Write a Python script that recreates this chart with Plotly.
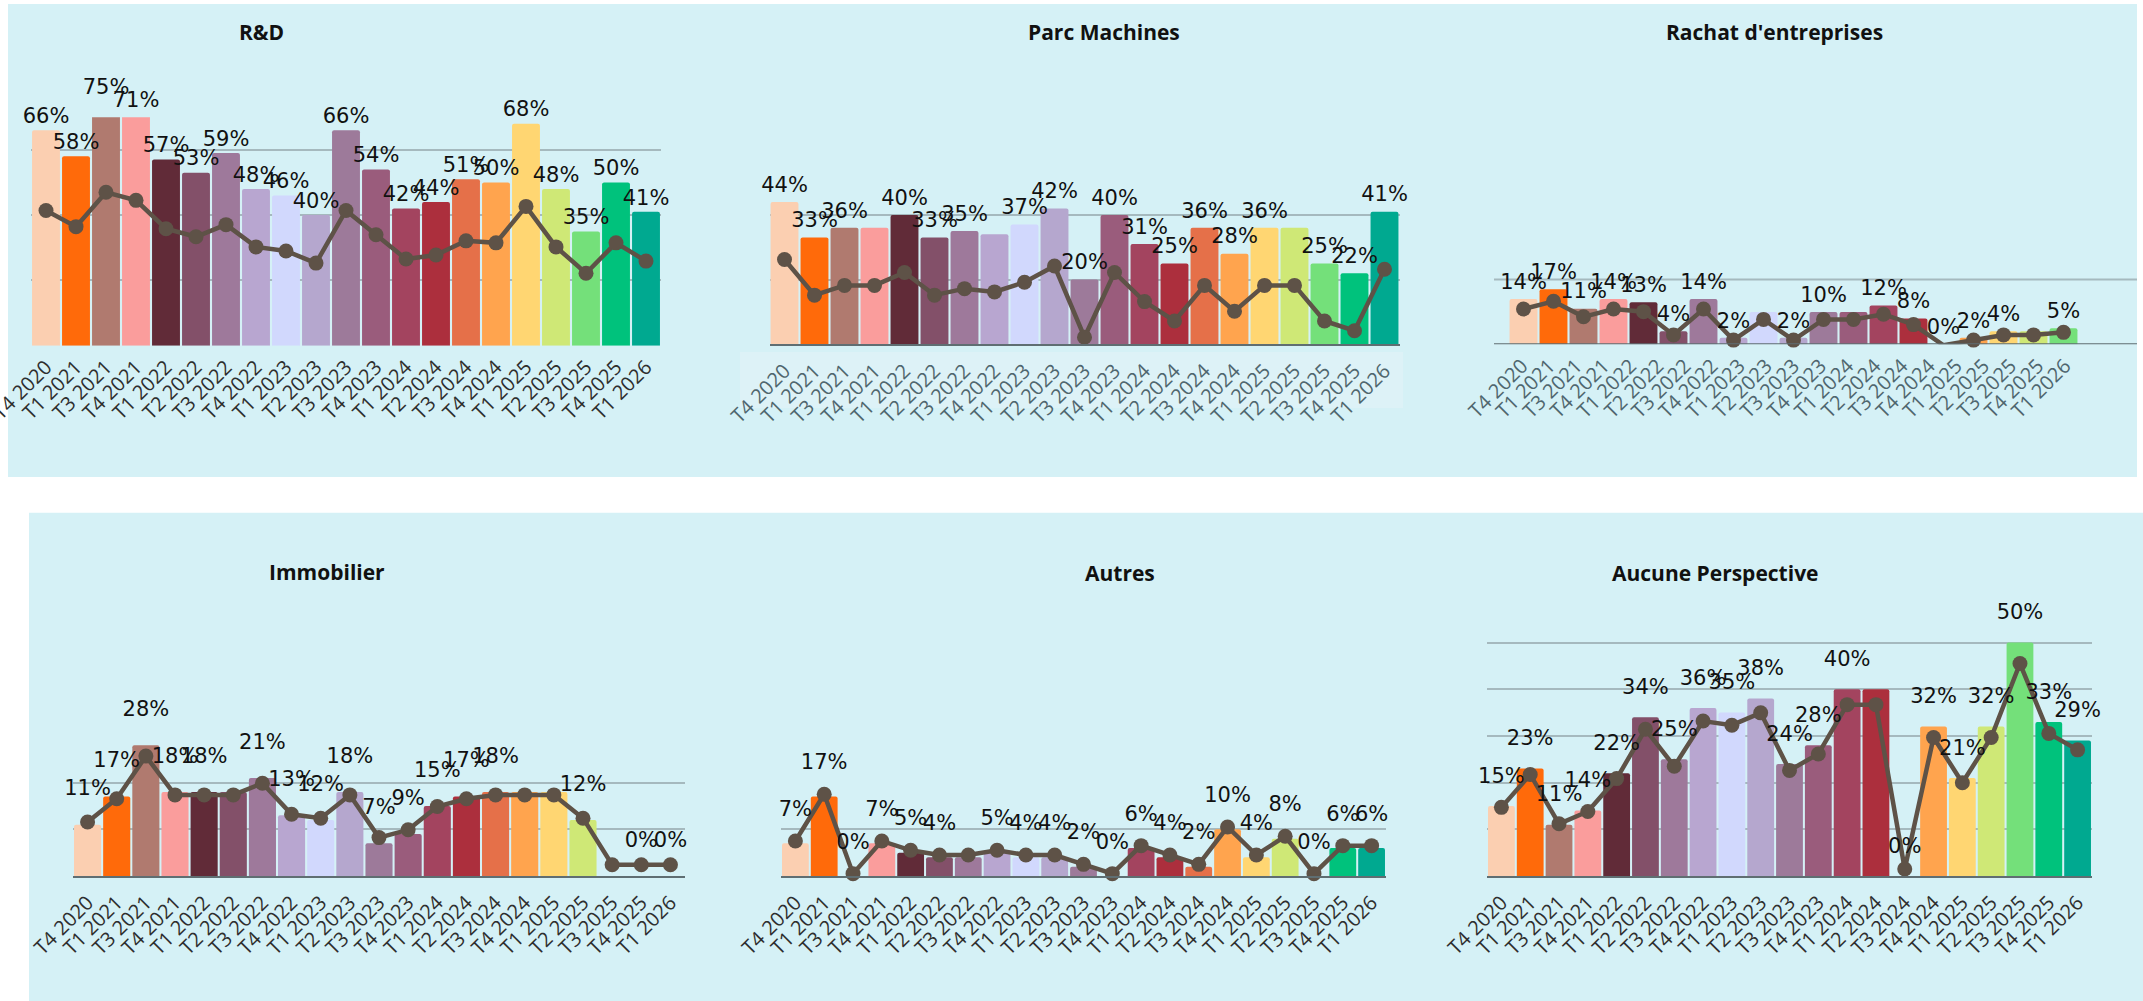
import plotly.graph_objects as go

# ---------------- data ----------------
categories = ["T4 2020", "T1 2021", "T3 2021", "T4 2021", "T1 2022", "T2 2022", "T3 2022",
              "T4 2022", "T1 2023", "T2 2023", "T3 2023", "T4 2023", "T1 2024", "T2 2024",
              "T3 2024", "T4 2024", "T1 2025", "T2 2025", "T3 2025", "T4 2025", "T1 2026"]

rd_values = [66, 58, 75, 71, 57, 53, 59, 48, 46, 40, 66, 54, 42, 44, 51, 50, 68, 48, 35, 50, 41]
parc_values = [44, 33, 36, 36, 40, 33, 35, 34, 37, 42, 20, 40, 31, 25, 36, 28, 36, 36, 25, 22, 41]
rachat_values = [14, 17, 11, 14, 13, 4, 14, 2, 10, 2, 10, 10, 12, 8, 0, 2, 4, 4, 5]
immobilier_values = [11, 17, 28, 18, 18, 18, 21, 13, 12, 18, 7, 9, 15, 17, 18, 18, 18, 12, 0, 0, 0]
autres_values = [7, 17, 0, 7, 5, 4, 4, 5, 4, 4, 2, 0, 6, 4, 2, 10, 4, 8, 0, 6, 6]
aucune_values = [15, 23, 11, 14, 22, 34, 25, 36, 35, 38, 24, 28, 40, 40, 0, 32, 21, 32, 50, 33, 29]

# labels hidden in the original (overlapping) -- indices
rd_hidden = []
parc_hidden = [3, 7, 17]
rachat_hidden = [8, 11, 17]
immobilier_hidden = [5, 15, 16, 18]
autres_hidden = [6]
aucune_hidden = [13]

bar_colors = ["#FBCFB1", "#FF6A0A", "#B07A6F", "#FA9D9C", "#612B38", "#835069", "#9E799B",
              "#B8A6D0", "#D1D8FD", "#B5A7CE", "#9D7A9A", "#9A5C7C", "#A3445F", "#AC2F3D",
              "#E57049", "#FFA44E", "#FFD672", "#CFE876", "#74E07A", "#00C27C", "#00A990"]

titles = ["R&D", "Parc Machines", "Rachat d'entreprises", "Immobilier", "Autres", "Aucune Perspective"]

# ---------------- styling / layout ----------------
W, H = 2143, 1001


def fx(p):
    return p / W


def fy(p):
    return 1 - p / H


LINE_COLOR = "#5E5247"
GRID_COLOR = "#A5B9BE"
AXIS_COLOR = "#5F6E72"
BG = "#D5F1F6"
LABEL_FONT = dict(family="DejaVu Sans", size=21, color="#111111")
TICK_SIZE = 20

# ypx: pixels per y unit (keeps label axis at the same scale)
panels = [
    dict(vals=rd_values, hidden=rd_hidden, xdom=(31, 661), ybot=345.7, yr=[0, 70], dt=20, ypx=3.265,
         lr=[-0.8, 112.1], tpos=(261, 32), tcol="#2E2E2E", showline=False, grid=True, lpad=2),
    dict(vals=parc_values, hidden=parc_hidden, xdom=(769.5, 1399.5), ybot=344.3, yr=[0, 50], dt=20, ypx=3.235,
         lr=[17.8, 67.8], tpos=(1104, 32), tcol="#4F666E", showline=True, grid=True, lpad=5),
    dict(vals=rachat_values, hidden=rachat_hidden, xdom=(1508.5, 2078.5), ybot=344.3, yr=[0, 30], dt=20, ypx=3.235,
         lr=[0.375, 37.9], tpos=(1774, 32), tcol="#4F666E", showline=False, grid=False, lpad=5),
    dict(vals=immobilier_values, hidden=immobilier_hidden, xdom=(73, 685), ybot=876, yr=[0, 29], dt=10, ypx=4.67,
         lr=[-2.9, 32.0], tpos=(327, 572), tcol="#2E2E2E", showline=True, grid=True, lpad=24),
    dict(vals=autres_values, hidden=autres_hidden, xdom=(781, 1386), ybot=876, yr=[0, 19], dt=10, ypx=4.67,
         lr=[-0.5, 18.5], tpos=(1120, 573), tcol="#2E2E2E", showline=True, grid=True, lpad=22),
    dict(vals=aucune_values, hidden=aucune_hidden, xdom=(1487, 2092), ybot=876, yr=[0, 55], dt=10, ypx=4.67,
         lr=[-1.7, 60.8], tpos=(1715, 573), tcol="#2E2E2E", showline=True, grid=True, lpad=18),
]
LABEL_AXIS_MAX = 90  # label axis spans further up, same scale, so labels of clipped bars stay visible

fig = go.Figure()
layout = {}
annotations = []

for i, p in enumerate(panels, start=1):
    n = len(p["vals"])
    cats = categories[:n]
    texts = ["" if k in p["hidden"] else f"{v}%" for k, v in enumerate(p["vals"])]
    xa, ya, ya2, yl = f"x{i}", f"y{i}", f"y{i + 6}", f"y{i + 12}"
    ytop = p["ybot"] - p["yr"][1] * p["ypx"]
    ytop_lab = p["ybot"] - LABEL_AXIS_MAX * p["ypx"]
    fig.add_trace(go.Bar(
        x=cats, y=p["vals"], xaxis=xa, yaxis=ya,
        marker=dict(color=bar_colors[:n], line=dict(width=0), cornerradius=2),
        hoverinfo="skip", showlegend=False))
    fig.add_trace(go.Scatter(
        x=cats, y=p["vals"], xaxis=xa, yaxis=ya2, mode="lines+markers",
        line=dict(color=LINE_COLOR, width=4.5), marker=dict(size=15, color=LINE_COLOR),
        cliponaxis=False, hoverinfo="skip", showlegend=False))
    # value labels just above each bar (invisible marker sets the gap)
    msize = (p["lpad"] - 1) * 1.6 if p["lpad"] > 0 else 0
    fig.add_trace(go.Scatter(
        x=cats, y=p["vals"], xaxis=xa, yaxis=yl, mode="markers+text" if msize else "text",
        marker=dict(size=msize, opacity=0), text=texts, textposition="top center",
        textfont=LABEL_FONT, cliponaxis=False, hoverinfo="skip", showlegend=False))

    show_ticks = (i != 3)
    layout[f"xaxis{i}"] = dict(
        domain=[fx(p["xdom"][0]), fx(p["xdom"][1])], anchor=ya, type="category",
        categoryorder="array", categoryarray=cats, range=[-0.5, n - 0.5], automargin=False,
        showticklabels=show_ticks, tickangle=-45, ticks="", ticklabelstandoff=5,
        tickfont=dict(family="Open Sans", size=TICK_SIZE, color=p["tcol"]),
        showgrid=False, zeroline=False,
        showline=p["showline"], linecolor=AXIS_COLOR, linewidth=2)
    layout[f"yaxis{i}"] = dict(
        domain=[fy(p["ybot"]), fy(ytop)], anchor=xa, range=p["yr"], dtick=p["dt"], tick0=0,
        showticklabels=False, ticks="", showgrid=p["grid"], gridcolor=GRID_COLOR, gridwidth=2,
        zeroline=False, showline=False, automargin=False)
    layout[f"yaxis{i + 6}"] = dict(overlaying=ya, anchor=xa, range=p["lr"], visible=False)
    layout[f"yaxis{i + 12}"] = dict(domain=[fy(p["ybot"]), fy(ytop_lab)], anchor=xa,
                                    range=[0, LABEL_AXIS_MAX], visible=False, automargin=False)
    annotations.append(dict(
        text=titles[i - 1], x=fx(p["tpos"][0]), y=fy(p["tpos"][1]), xref="paper", yref="paper",
        xanchor="center", yanchor="middle", showarrow=False,
        font=dict(family="Open Sans", size=21, color="#111111", weight=700)))

# tick-label axis for the Rachat panel (21 labels on their own spacing)
fig.add_trace(go.Scatter(x=categories, y=[None] * len(categories), xaxis="x7", yaxis="y3",
                         mode="markers", hoverinfo="skip", showlegend=False))
layout["xaxis7"] = dict(domain=[fx(1500), fx(2075)], anchor="y3", overlaying="x3", type="category",
                        categoryorder="array", categoryarray=categories, ticklabelstandoff=5,
                        range=[-0.5, len(categories) - 0.5],
                        tickangle=-45, ticks="", showgrid=False, zeroline=False, showline=False,
                        automargin=False,
                        tickfont=dict(family="Open Sans", size=TICK_SIZE, color="#4F666E"))

shapes = [
    dict(type="rect", xref="paper", yref="paper", x0=fx(8), x1=fx(2137), y0=fy(477), y1=fy(4),
         fillcolor=BG, line=dict(width=0), layer="below"),
    dict(type="rect", xref="paper", yref="paper", x0=fx(29), x1=fx(2143), y0=fy(1001), y1=fy(512.7),
         fillcolor=BG, line=dict(width=0), layer="below"),
    dict(type="rect", xref="paper", yref="paper", x0=fx(740), x1=fx(1403), y0=fy(408), y1=fy(352),
         fillcolor="#DDF2F7", line=dict(width=0), layer="below"),
    # Rachat grid + base line spanning the panel
    dict(type="line", xref="paper", yref="y3", x0=fx(1494), x1=fx(2137), y0=20, y1=20,
         line=dict(color=GRID_COLOR, width=2), layer="below"),
    dict(type="line", xref="paper", yref="y3", x0=fx(1494), x1=fx(2137), y0=0, y1=0,
         line=dict(color=AXIS_COLOR, width=2), layer="above"),
]

fig.update_layout(
    width=W, height=H, margin=dict(l=0, r=0, t=0, b=0, autoexpand=False),
    paper_bgcolor="white", plot_bgcolor="rgba(0,0,0,0)",
    bargap=0.07, showlegend=False, shapes=shapes, annotations=annotations,
    **layout)

fig.write_html("out.html")
